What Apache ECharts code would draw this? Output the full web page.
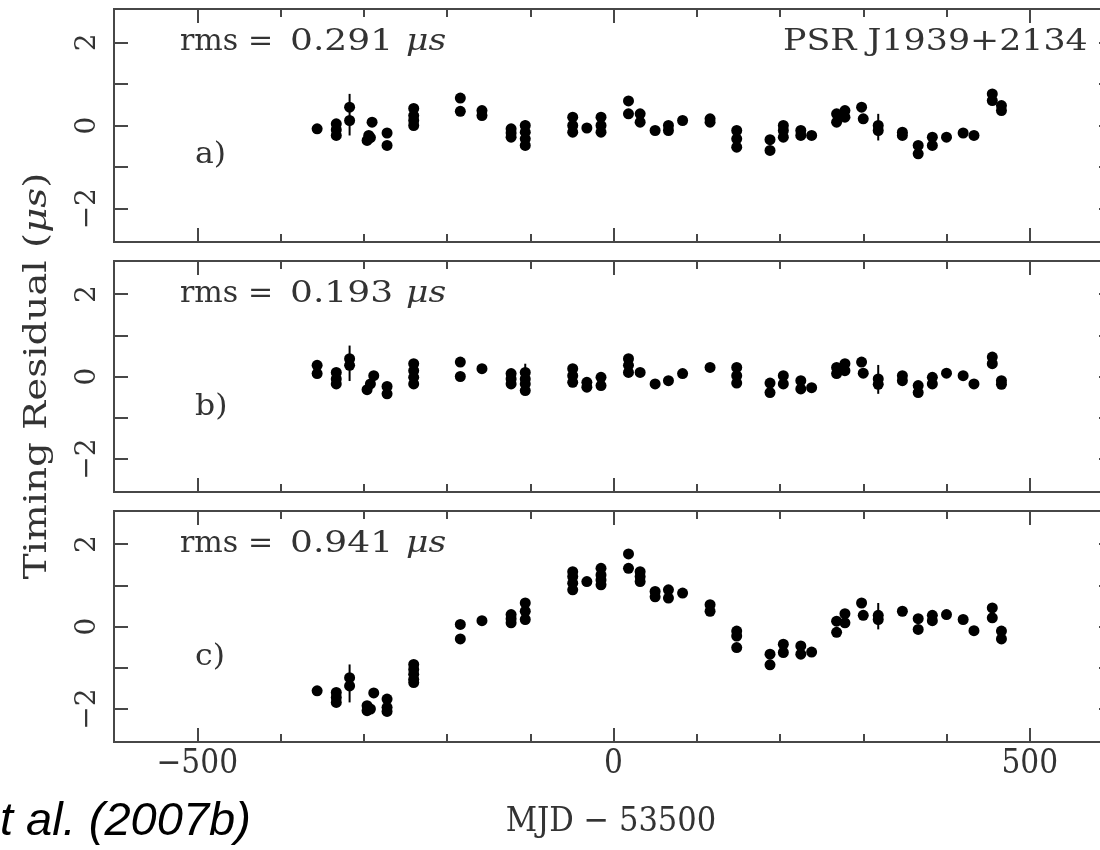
<!DOCTYPE html>
<html><head><meta charset="utf-8">
<script src="https://cdn.jsdelivr.net/npm/echarts@6/dist/echarts.min.js"></script>
<style>html,body{margin:0;padding:0;background:#fff}#c{width:1100px;height:850px}</style>
</head><body><div id="c"></div>
<script>
// ---- data (MJD - 53500, timing residual in microseconds) ----
const aX = [-356,-333,-333,-333,-317,-317,-290,-294,-292,-296,-272,-272,-240,-240,-240,-240,-184,-184,-158,-158,-123,-123,-123,-106,-106,-106,-106,-49,-49,-49,-32,-15,-15,-15,18,18,32,32,50,66,66,83,116,116,148,148,148,188,188,204,204,204,225,225,238,268,268,278,278,298,300,318,318,347,347,366,366,383,383,400,420,433,455,455,466,466];
const aY = [-0.08,0.04,-0.1,-0.24,0.44,0.12,0.08,-0.24,-0.29,-0.36,-0.18,-0.48,0.41,0.24,0.12,0.0,0.66,0.34,0.36,0.24,-0.08,-0.18,-0.28,0.0,-0.16,-0.32,-0.48,0.2,0.0,-0.16,-0.06,0.2,0.0,-0.16,0.59,0.28,0.28,0.08,-0.12,0.0,-0.12,0.12,0.16,0.08,-0.12,-0.32,-0.52,-0.34,-0.6,0.0,-0.12,-0.28,-0.12,-0.24,-0.24,0.28,0.08,0.36,0.2,0.44,0.16,0.0,-0.12,-0.16,-0.24,-0.48,-0.68,-0.28,-0.48,-0.28,-0.18,-0.24,0.76,0.6,0.48,0.36];

const bX = [-356,-356,-333,-333,-333,-317,-317,-288,-292,-296,-272,-272,-240,-240,-240,-240,-184,-184,-158,-123,-123,-123,-106,-106,-106,-106,-49,-49,-49,-32,-32,-15,-15,18,18,18,32,50,66,83,116,148,148,148,188,188,204,204,225,225,238,268,268,278,278,298,300,318,318,347,347,366,366,383,383,400,420,433,455,455,466,466];
const bY = [0.27,0.07,0.1,-0.06,-0.18,0.43,0.27,0.02,-0.18,-0.32,-0.24,-0.42,0.31,0.14,-0.02,-0.18,0.35,0.0,0.19,0.07,-0.06,-0.18,0.1,-0.06,-0.18,-0.34,0.19,0.02,-0.14,-0.14,-0.26,-0.02,-0.22,0.43,0.27,0.1,0.1,-0.18,-0.1,0.07,0.22,0.22,0.02,-0.16,-0.16,-0.39,0.02,-0.18,-0.1,-0.3,-0.27,0.22,0.07,0.31,0.14,0.35,0.08,-0.06,-0.19,0.02,-0.1,-0.22,-0.39,-0.02,-0.18,0.08,0.02,-0.18,0.47,0.31,-0.1,-0.19];

const cX = [-356,-333,-333,-333,-317,-317,-288,-296,-292,-296,-272,-272,-272,-240,-240,-240,-240,-240,-184,-184,-158,-123,-123,-123,-106,-106,-106,-49,-49,-49,-49,-32,-15,-15,-15,-15,18,18,32,32,32,50,50,66,66,83,116,116,148,148,148,188,188,204,204,225,225,238,268,268,278,278,298,300,318,318,347,366,366,383,383,400,420,433,455,455,466,466];
const cY = [-1.56,-1.6,-1.72,-1.84,-1.24,-1.44,-1.61,-1.92,-2.0,-2.04,-1.76,-1.96,-2.06,-0.92,-1.04,-1.16,-1.28,-1.36,0.05,-0.3,0.14,0.29,0.19,0.09,0.57,0.37,0.17,1.33,1.21,1.05,0.89,1.09,1.41,1.25,1.13,1.01,1.76,1.41,1.33,1.21,1.09,0.85,0.72,0.89,0.69,0.81,0.53,0.37,-0.11,-0.23,-0.51,-0.67,-0.93,-0.43,-0.63,-0.47,-0.67,-0.62,0.13,-0.14,0.31,0.09,0.57,0.27,0.27,0.17,0.37,0.19,-0.07,0.27,0.14,0.29,0.17,-0.1,0.45,0.21,-0.11,-0.3];

// error bars: epoch, centre, half-length
const errX  = [-317, -106, 318, 383];
const aErrY = [0.26, -0.2, -0.04, -0.38];
const aErrE = [0.5, 0.32, 0.32, 0.15];
const bErrY = [0.32, -0.05, -0.07, -0.1];
const bErrE = [0.43, 0.36, 0.35, 0.15];
const cErrY = [-1.38, 0.35, 0.25, 0.22];
const cErrE = [0.46, 0.3, 0.32, 0.18];

const rmsValues = ['0.291', '0.193', '0.941'];
const panelTags = ['a)', 'b)', 'c)'];
const xMajor = [-500, 0, 500];
const yTicks = [-2, -1, 0, 1, 2];
const yLabels = [-2, 0, 2];

// ---- layout ----
const panels = [
  {x: aX, y: aY, ey: aErrY, ee: aErrE, top: 9, h: 233},
  {x: bX, y: bY, ey: bErrY, ee: bErrE, top: 261, h: 231},
  {x: cX, y: cY, ey: cErrY, ee: cErrE, top: 511, h: 231}
];
const AX = '#474747';
const serif = "'DejaVu Serif', serif";
const minus = v => (v < 0 ? '\u2212' + Math.abs(v) : String(v));

const grid = [], xAxis = [], yAxis = [], series = [], graphic = [];
panels.forEach((p, i) => {
  grid.push({left: 114, width: 999, top: p.top, height: p.h, containLabel: false, outerBoundsMode: 'none'});
  const lineStyle = {color: AX, width: 2};
  ['bottom', 'top'].forEach(pos => {
    xAxis.push({gridIndex: i, type: 'value', min: -600, max: 600, interval: 100, position: pos,
      axisLine: {show: true, onZero: false, lineStyle},
      axisTick: {show: true, inside: true, length: 8, lineStyle},
      axisLabel: {show: false}, splitLine: {show: false}});
    xAxis.push({gridIndex: i, type: 'value', min: -600, max: 600, interval: 100, position: pos,
      axisLine: {show: true, onZero: false, lineStyle},
      axisTick: {show: true, inside: true, length: 14, customValues: xMajor, lineStyle},
      axisLabel: {show: (i === 2 && pos === 'bottom'), customValues: xMajor, formatter: minus,
        fontFamily: "'DejaVu Serif Condensed', 'DejaVu Serif', serif", fontSize: 33, color: '#333', margin: 6},
      splitLine: {show: false}});
  });
  ['left', 'right'].forEach(pos => {
    yAxis.push({gridIndex: i, type: 'value', min: -2.8, max: 2.8, position: pos,
      axisLine: {show: pos === 'left', onZero: false, lineStyle},
      axisTick: {show: true, inside: true, length: 14, customValues: yTicks, lineStyle},
      axisLabel: {show: pos === 'left', customValues: yLabels, formatter: minus, rotate: 90,
        fontFamily: serif, fontSize: 28, color: '#333', margin: 12},
      splitLine: {show: false}});
  });
  const xi = i * 4 + 1, yi = i * 2;
  const errData = errX.map((x, k) => [x, p.ey[k], p.ee[k]]);
  series.push({type: 'custom', xAxisIndex: xi, yAxisIndex: yi, data: errData, silent: true,
    renderItem: (params, api) => {
      const x = api.value(0), y = api.value(1), e = api.value(2);
      const p1 = api.coord([x, y - e]), p2 = api.coord([x, y + e]);
      return {type: 'line', shape: {x1: p1[0], y1: p1[1], x2: p2[0], y2: p2[1]},
        style: {stroke: '#000', lineWidth: 2}};
    }});
  series.push({type: 'scatter', xAxisIndex: xi, yAxisIndex: yi, symbol: 'circle', symbolSize: 11,
    itemStyle: {color: '#000', opacity: 1}, silent: true,
    data: p.x.map((x, k) => [x, p.y[k]])});

  const cy = p.top + 33;
  const tstyle = {fill: '#333', font: "30px 'DejaVu Serif', serif", verticalAlign: 'middle', align: 'left'};
  graphic.push({type: 'text', x: 180, y: cy, style: Object.assign({text: 'rms'}, tstyle)});
  graphic.push({type: 'text', x: 248, y: cy, style: Object.assign({text: '='}, tstyle)});
  graphic.push({type: 'text', x: 290, y: cy, scaleX: 1.2, style: Object.assign({text: rmsValues[i]}, tstyle)});
  graphic.push({type: 'text', x: 406, y: cy, scaleX: 1.15, style: Object.assign({}, tstyle, {text: '\u03bcs', font: "italic 30px 'DejaVu Serif', serif"})});
  graphic.push({type: 'text', x: 195, y: p.top + 146, scaleX: 1.05, style: Object.assign({text: panelTags[i]}, tstyle)});
});

graphic.push({type: 'text', x: 783, y: 42, scaleX: 1.2, style: {text: 'PSR J1939+2134', fill: '#333',
  font: "29px 'DejaVu Serif', serif", verticalAlign: 'middle', align: 'left'}});
graphic.push({type: 'text', x: 38, y: 376, rotation: Math.PI / 2, scaleX: 1.25, style: {
  text: '{r|Timing Residual (}{i|\u03bcs}{r|)}', align: 'center', verticalAlign: 'middle',
  rich: {r: {fontFamily: serif, fontSize: 31, fill: '#333', color: '#333'},
         i: {fontFamily: serif, fontStyle: 'italic', fontSize: 31, fill: '#333', color: '#333'}}}});
graphic.push({type: 'text', x: 611, y: 822, style: {text: 'MJD \u2212 53500', fill: '#333',
  font: "34px 'DejaVu Serif Condensed', 'DejaVu Serif', serif", align: 'center', verticalAlign: 'middle'}});
graphic.push({type: 'text', x: 0, y: 822, style: {text: 't al. (2007b)', fill: '#000',
  font: "italic 47px 'Liberation Sans', Arial, sans-serif", align: 'left', verticalAlign: 'middle'}});

const chart = echarts.init(document.getElementById('c'), null, {renderer: 'canvas'});
chart.setOption({animation: false, backgroundColor: '#fff', grid, xAxis, yAxis, series, graphic});
</script></body></html>
